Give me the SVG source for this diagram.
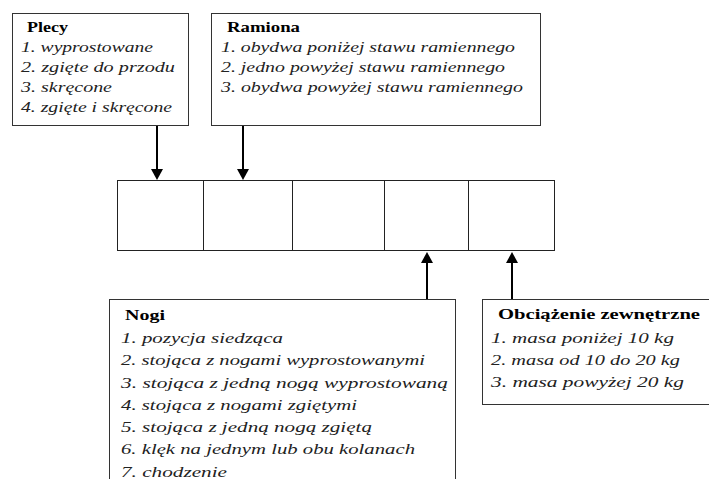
<svg xmlns="http://www.w3.org/2000/svg" width="709" height="479" viewBox="0 0 709 479">
<style>
.box{fill:#fff;stroke:#333;stroke-width:1}
.cell{fill:#fff;stroke:#222;stroke-width:1}
.t{font-size:15px;font-weight:bold;fill:#000}
.i{font-size:15px;font-style:italic;fill:#222}
.ln{stroke:#000;stroke-width:2;fill:none}
.ah{fill:#000}
</style>
<rect width="709" height="479" fill="#fff"/>
<g id="plecy" font-family="Liberation Serif, serif">
<rect class="box" x="12.5" y="13.5" width="176" height="112"/>
<text class="t" x="27" y="32" textLength="41" lengthAdjust="spacingAndGlyphs">Plecy</text>
<text class="i" x="21" y="52" textLength="132" lengthAdjust="spacingAndGlyphs">1. wyprostowane</text>
<text class="i" x="21" y="72" textLength="154" lengthAdjust="spacingAndGlyphs">2. zgięte do przodu</text>
<text class="i" x="21" y="92" textLength="91" lengthAdjust="spacingAndGlyphs">3. skręcone</text>
<text class="i" x="21" y="112" textLength="151" lengthAdjust="spacingAndGlyphs">4. zgięte i skręcone</text>
</g>
<g id="ramiona" font-family="Liberation Serif, serif">
<rect class="box" x="211.5" y="13.5" width="329" height="112"/>
<text class="t" x="227" y="32" textLength="73" lengthAdjust="spacingAndGlyphs">Ramiona</text>
<text class="i" x="221" y="52" textLength="294" lengthAdjust="spacingAndGlyphs">1. obydwa poniżej stawu ramiennego</text>
<text class="i" x="221" y="72" textLength="284" lengthAdjust="spacingAndGlyphs">2. jedno powyżej stawu ramiennego</text>
<text class="i" x="221" y="92" textLength="302" lengthAdjust="spacingAndGlyphs">3. obydwa powyżej stawu ramiennego</text>
</g>
<g id="row">
<rect class="cell" x="117.5" y="180.5" width="86" height="70"/>
<rect class="cell" x="203.5" y="180.5" width="89" height="70"/>
<rect class="cell" x="292.5" y="180.5" width="92" height="70"/>
<rect class="cell" x="384.5" y="180.5" width="84" height="70"/>
<rect class="cell" x="468.5" y="180.5" width="86" height="70"/>
</g>
<g id="nogi" font-family="Liberation Serif, serif">
<rect class="box" x="109.5" y="299.5" width="346" height="200"/>
<text class="t" x="125" y="320" textLength="40" lengthAdjust="spacingAndGlyphs">Nogi</text>
<text class="i" x="121" y="343" textLength="162" lengthAdjust="spacingAndGlyphs">1. pozycja siedząca</text>
<text class="i" x="121" y="365" textLength="304" lengthAdjust="spacingAndGlyphs">2. stojąca z nogami wyprostowanymi</text>
<text class="i" x="121" y="388" textLength="327" lengthAdjust="spacingAndGlyphs">3. stojąca z jedną nogą wyprostowaną</text>
<text class="i" x="121" y="410" textLength="236" lengthAdjust="spacingAndGlyphs">4. stojąca z nogami zgiętymi</text>
<text class="i" x="121" y="432" textLength="251" lengthAdjust="spacingAndGlyphs">5. stojąca z jedną nogą zgiętą</text>
<text class="i" x="121" y="454" textLength="294" lengthAdjust="spacingAndGlyphs">6. klęk na jednym lub obu kolanach</text>
<text class="i" x="121" y="477" textLength="106" lengthAdjust="spacingAndGlyphs">7. chodzenie</text>
</g>
<g id="obciazenie" font-family="Liberation Serif, serif">
<rect class="box" x="482.5" y="299.5" width="240" height="105"/>
<text class="t" x="498" y="319" textLength="202" lengthAdjust="spacingAndGlyphs">Obciążenie zewnętrzne</text>
<text class="i" x="491" y="343" textLength="183" lengthAdjust="spacingAndGlyphs">1. masa poniżej 10 kg</text>
<text class="i" x="491" y="365" textLength="189" lengthAdjust="spacingAndGlyphs">2. masa od 10 do 20 kg</text>
<text class="i" x="491" y="387" textLength="193" lengthAdjust="spacingAndGlyphs">3. masa powyżej 20 kg</text>
</g>
<g id="connectors">
<line class="ln" x1="157" y1="126" x2="157" y2="170"/>
<polygon class="ah" points="151,169 163,169 157,180"/>
<line class="ln" x1="243" y1="126" x2="243" y2="170"/>
<polygon class="ah" points="237,169 249,169 243,180"/>
<line class="ln" x1="427" y1="299" x2="427" y2="262"/>
<polygon class="ah" points="421,263 433,263 427,252"/>
<line class="ln" x1="512" y1="299" x2="512" y2="262"/>
<polygon class="ah" points="506,263 518,263 512,252"/>
</g>
</svg>
